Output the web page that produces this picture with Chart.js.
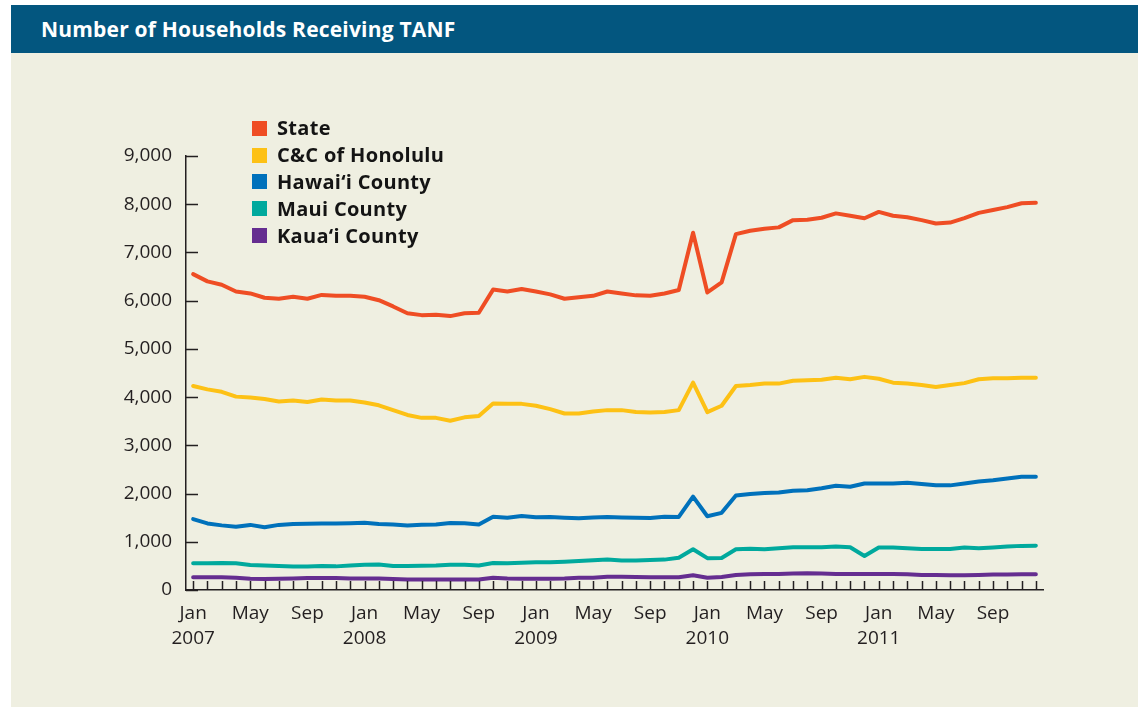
<!DOCTYPE html>
<html>
<head>
<meta charset="utf-8">
<script src="https://cdn.jsdelivr.net/npm/chart.js@4/dist/chart.umd.min.js"></script>
<style>
  body { margin: 0; background: #fff; width: 1138px; height: 707px; overflow: hidden; position: relative; font-family: "Open Sans", sans-serif; }
  #header { position: absolute; left: 11px; top: 5px; width: 1127px; height: 48px; background: #03567f; }
  #header span { position: absolute; left: 30px; top: 10px; color: #fff; font-weight: 700; font-size: 21px; line-height: 28px; letter-spacing: 0.2px; }
  #panel { position: absolute; left: 11px; top: 53px; width: 1127px; height: 654px; background: #efefe1; }
  #chart { position: absolute; left: 0; top: 0; }
  #legend { position: absolute; left: 241px; top: 62px; }
  .row { display: flex; align-items: center; height: 26.8px; }
  .sw { width: 15px; height: 15px; margin-right: 10px; }
  .row span { font-weight: 700; font-size: 20px; letter-spacing: 0.3px; color: #141414; line-height: 1; }
</style>
</head>
<body>
<div id="header"><span>Number of Households Receiving TANF</span></div>
<div id="panel">
  <canvas id="chart" width="1127" height="654"></canvas>
  <div id="legend"></div>
</div>
<script>
// month categories
const years = ['2007', '2008', '2009', '2010', '2011'];
const monthNames = ['Jan', 'Feb', 'Mar', 'Apr', 'May', 'Jun', 'Jul', 'Aug', 'Sep', 'Oct', 'Nov', 'Dec'];
const tickMonths = ['Jan', 'May', 'Sep'];
const categories = [];
years.forEach(y => monthNames.forEach(m => categories.push(m + ' ' + y)));

// households per month, Jan 2007 - Dec 2011
const state = [
  6550, 6400, 6330, 6190, 6150, 6060, 6040, 6080, 6040, 6120, 6100, 6100,
  6080, 6010, 5880, 5740, 5700, 5710, 5680, 5740, 5750, 6230, 6190, 6240,
  6190, 6130, 6040, 6070, 6100, 6190, 6150, 6110, 6100, 6150, 6220, 7410,
  6170, 6380, 7380, 7450, 7490, 7520, 7670, 7680, 7720, 7810, 7760, 7710,
  7840, 7760, 7730, 7670, 7600, 7620, 7710, 7820, 7880, 7940, 8020, 8030
];
const honolulu = [
  4230, 4160, 4110, 4010, 3990, 3960, 3910, 3930, 3900, 3950, 3930, 3930,
  3890, 3830, 3730, 3630, 3570, 3570, 3510, 3580, 3610, 3870, 3860, 3860,
  3820, 3750, 3660, 3660, 3700, 3730, 3730, 3690, 3680, 3690, 3730, 4300,
  3690, 3820, 4230, 4250, 4280, 4280, 4340, 4350, 4360, 4400, 4370, 4420,
  4380, 4300, 4280, 4250, 4210, 4250, 4290, 4370, 4390, 4390, 4400, 4400
];
const hawaii = [
  1470, 1380, 1340, 1310, 1350, 1300, 1350, 1370, 1375, 1380, 1380, 1385,
  1395, 1370, 1360, 1340, 1355, 1360, 1390, 1385, 1360, 1520, 1500, 1535,
  1510, 1515, 1500, 1490, 1505, 1515, 1505, 1500, 1495, 1520, 1515, 1935,
  1530, 1600, 1960, 1990, 2010, 2020, 2060, 2070, 2110, 2160, 2140, 2210,
  2210, 2210, 2225, 2200, 2170, 2170, 2210, 2250, 2275, 2310, 2350, 2350
];
const maui = [
  555, 555, 560, 555, 520, 510, 500, 485, 485, 500, 490, 510,
  525, 530, 500, 500, 505, 510, 525, 525, 510, 560, 555, 565,
  575, 575, 585, 600, 615, 630, 610, 610, 620, 630, 670, 845,
  660, 665, 845, 855, 845, 865, 885, 885, 885, 900, 885, 705,
  880, 880, 865, 850, 850, 850, 880, 865, 880, 900, 915, 920
];
const kauai = [
  265, 265, 265, 255, 235, 230, 235, 240, 250, 250, 250, 240,
  240, 240, 230, 220, 220, 220, 220, 220, 220, 255, 240, 235,
  235, 235, 240, 255, 255, 275, 275, 270, 265, 265, 265, 305,
  255, 270, 310, 325, 330, 330, 340, 345, 340, 330, 330, 330,
  330, 330, 325, 310, 310, 305, 305, 310, 320, 320, 325, 325
];

const seriesNames = ['State', 'C&C of Honolulu', 'Hawai\u2018i County', 'Maui County', 'Kaua\u2018i County'];
const seriesColors = ['#ef4d24', '#fdc115', '#0071bb', '#00a99d', '#652d90'];
const seriesData = [state, honolulu, hawaii, maui, kauai];

const axisColor = '#231f20';

// inward tick marks on both axes
const innerTicks = {
  id: 'innerTicks',
  afterDatasetsDraw(chart) {
    const ctx = chart.ctx;
    const x = chart.scales.x, y = chart.scales.y;
    ctx.save();
    ctx.strokeStyle = axisColor;
    ctx.lineWidth = 1.5;
    ctx.beginPath();
    categories.forEach((c, i) => {
      const px = Math.round(x.getPixelForValue(i)) + 0.5;
      ctx.moveTo(px, y.bottom);
      ctx.lineTo(px, y.bottom - 9);
    });
    y.ticks.forEach(t => {
      const py = Math.round(y.getPixelForValue(t.value)) + 0.5;
      ctx.moveTo(x.left, py);
      ctx.lineTo(x.left + 12, py);
    });
    ctx.stroke();
    ctx.restore();
  }
};

new Chart(document.getElementById('chart'), {
  type: 'line',
  data: {
    labels: categories,
    datasets: seriesData.map((d, i) => ({
      label: seriesNames[i],
      data: d,
      borderColor: seriesColors[i],
      backgroundColor: seriesColors[i],
      borderWidth: 4,
      pointRadius: 0,
      tension: 0,
      borderJoinStyle: 'round',
      borderCapStyle: 'round'
    }))
  },
  options: {
    responsive: false,
    animation: false,
    layout: { padding: { left: 0, right: 95, top: 103, bottom: 57 } },
    plugins: { legend: { display: false }, tooltip: { enabled: false } },
    scales: {
      x: {
        type: 'category',
        offset: true,
        grid: { display: false },
        border: { display: true, color: axisColor, width: 1.5 },
        afterFit(scale) { scale.height = 60; },
        ticks: {
          autoSkip: false,
          maxRotation: 0,
          padding: 3,
          color: axisColor,
          font: { family: 'Open Sans', size: 19, lineHeight: 1.32 },
          callback(value, index) {
            const [m, yr] = categories[index].split(' ');
            if (!tickMonths.includes(m)) return '';
            return m === 'Jan' ? [m, yr] : m;
          }
        }
      },
      y: {
        min: 0,
        max: 9000,
        grid: { display: false },
        border: { display: true, color: axisColor, width: 1.5 },
        afterFit(scale) { scale.width = 175; },
        ticks: {
          stepSize: 1000,
          padding: 6,
          color: axisColor,
          font: { family: 'Open Sans', size: 19 },
          callback: v => v.toLocaleString('en-US')
        }
      }
    }
  },
  plugins: [innerTicks]
});

// legend
const legend = document.getElementById('legend');
seriesNames.forEach((n, i) => {
  const row = document.createElement('div');
  row.className = 'row';
  row.innerHTML = '<div class="sw" style="background:' + seriesColors[i] + '"></div><span></span>';
  row.querySelector('span').textContent = n;
  legend.appendChild(row);
});
</script>
</body>
</html>
